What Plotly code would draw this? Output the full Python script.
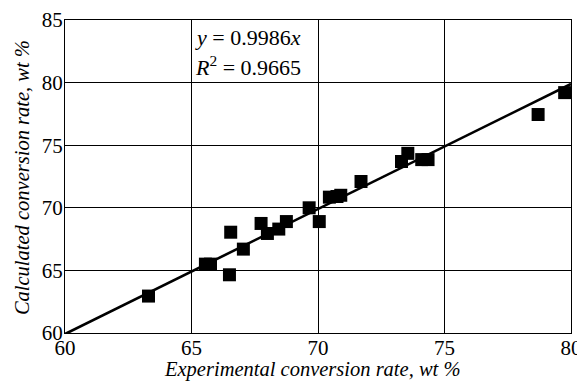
import plotly.graph_objects as go

exp_rate = [63.3, 65.55, 65.75, 66.5, 66.55, 67.05, 67.75, 68.0, 68.45, 68.75,
            69.65, 70.05, 70.45, 70.75, 70.9, 71.7, 73.3, 73.55, 74.1, 74.35,
            78.7, 79.75]
calc_rate = [62.95, 65.5, 65.5, 64.65, 68.05, 66.7, 68.75, 67.95, 68.3, 68.9,
             70.0, 68.9, 70.85, 70.9, 71.0, 72.1, 73.7, 74.35, 73.85, 73.85,
             77.45, 79.2]
slope = 0.9986
fit_x = [60, 80]
fit_y = [slope * v for v in fit_x]
x_ticks = [60, 65, 70, 75, 80]
y_ticks = [60, 65, 70, 75, 80, 85]
x_title = "<i>Experimental conversion rate, wt %</i>"
y_title = "<i>Calculated conversion rate, wt %</i>"

FONT = "Liberation Serif"

fig = go.Figure()
fig.add_trace(go.Scatter(x=fit_x, y=fit_y, mode="lines",
                         line=dict(color="black", width=2.6), showlegend=False,
                         cliponaxis=True))
fig.add_trace(go.Scatter(x=exp_rate, y=calc_rate, mode="markers",
                         marker=dict(symbol="square", size=13, color="black"),
                         showlegend=False, cliponaxis=True))

fig.add_annotation(x=65.05, y=83.6, xref="x", yref="y", xanchor="left", yanchor="middle",
                   text="<i>y</i> = 0.9986<i>x</i>", showarrow=False,
                   font=dict(family=FONT, size=22, color="black"))
fig.add_annotation(x=65.05, y=81.35, xref="x", yref="y", xanchor="left", yanchor="middle",
                   text="<i>R</i><sup>2</sup> = 0.9665", showarrow=False,
                   font=dict(family=FONT, size=22, color="black"))

# axis titles
fig.add_annotation(x=0.488, y=-0.118, xref="paper", yref="paper", xanchor="center",
                   yanchor="middle", text=x_title, showarrow=False,
                   font=dict(family=FONT, size=20.5, color="black"))
fig.add_annotation(x=-0.085, y=0.498, xref="paper", yref="paper", xanchor="center",
                   yanchor="middle", text=y_title, showarrow=False, textangle=-90,
                   font=dict(family=FONT, size=20.5, color="black"))

axis_common = dict(showgrid=True, gridcolor="black", gridwidth=1,
                   showline=True, linecolor="black", linewidth=1, mirror=True,
                   zeroline=False, ticks="", automargin=False, ticklabeloverflow="allow",
                   tickfont=dict(family=FONT, size=21, color="black"))

fig.update_xaxes(range=[60, 80], tickvals=x_ticks, ticktext=[str(t) for t in x_ticks],
                 ticklabelstandoff=-4, **axis_common)
fig.update_yaxes(range=[60, 85], tickvals=y_ticks, ticktext=[str(t) for t in y_ticks],
                 ticklabelstandoff=-3, **axis_common)

fig.update_layout(width=577, height=381, margin=dict(l=65, r=6, t=20, b=48),
                  plot_bgcolor="white", paper_bgcolor="white",
                  font=dict(family=FONT, color="black"))

fig.write_html("out.html", post_script="document.body.style.margin='0';",
               config={"displayModeBar": False})
